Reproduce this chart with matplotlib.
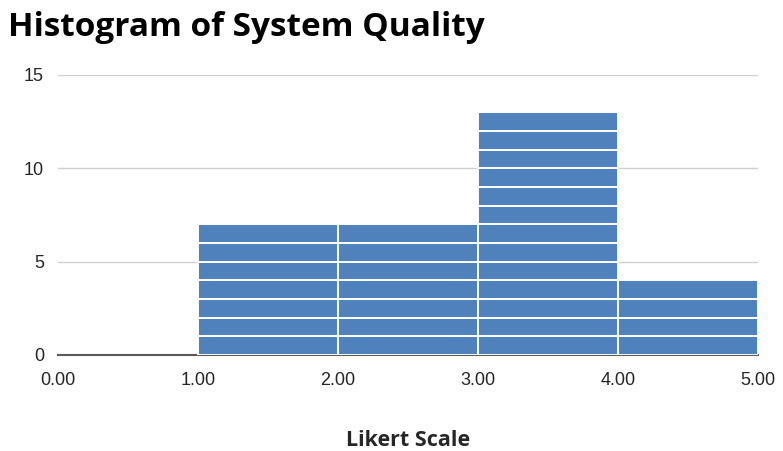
import matplotlib
matplotlib.use("Agg")
import matplotlib.pyplot as plt

# histogram bins (Likert scale) and counts
bin_edges = [0.0, 1.0, 2.0, 3.0, 4.0, 5.0]
counts = [0, 7, 7, 13, 4]
y_ticks = [0, 5, 10, 15]
x_ticks = [0.0, 1.0, 2.0, 3.0, 4.0, 5.0]

bar_color = "#4f81bd"


def main():
    fig = plt.figure(figsize=(7.83, 4.51), dpi=100)
    ax = fig.add_axes([0.074, 0.213, 0.894, 0.621])

    ax.yaxis.grid(True, color="#d0d0d0", linewidth=1.0)
    ax.set_axisbelow(True)

    # each bin is drawn as a stack of single-count blocks
    for i, n in enumerate(counts):
        left = bin_edges[i]
        width = bin_edges[i + 1] - bin_edges[i]
        for k in range(n):
            ax.bar(left, 1, bottom=k, width=width, align="edge",
                   color=bar_color, edgecolor="white", linewidth=1.4,
                   zorder=2)

    ax.set_xlim(0, 5)
    ax.set_ylim(0, 15)
    ax.set_xticks(x_ticks)
    ax.set_xticklabels(["%.2f" % v for v in x_ticks])
    ax.set_yticks(y_ticks)
    for lab in ax.get_xticklabels() + ax.get_yticklabels():
        lab.set_family("Liberation Sans")
        lab.set_fontsize(13)
        lab.set_color("#262626")
    ax.tick_params(axis="x", length=0, pad=12)
    ax.tick_params(axis="y", length=0, pad=10)

    for side in ["top", "right", "left"]:
        ax.spines[side].set_visible(False)
    ax.spines["bottom"].set_color("#595959")
    ax.spines["bottom"].set_linewidth(1.5)
    ax.spines["bottom"].set_zorder(1)

    ax.set_xlabel("Likert Scale", family="Open Sans", fontweight="bold",
                  fontsize=15.5, color="#262626", labelpad=30)
    fig.text(0.01, 0.94, "Histogram of System Quality", family="Open Sans",
             fontweight="bold", fontsize=24, color="black", va="center")

    plt.savefig("out.png", dpi=100)
    plt.close()


if __name__ == "__main__":
    main()
